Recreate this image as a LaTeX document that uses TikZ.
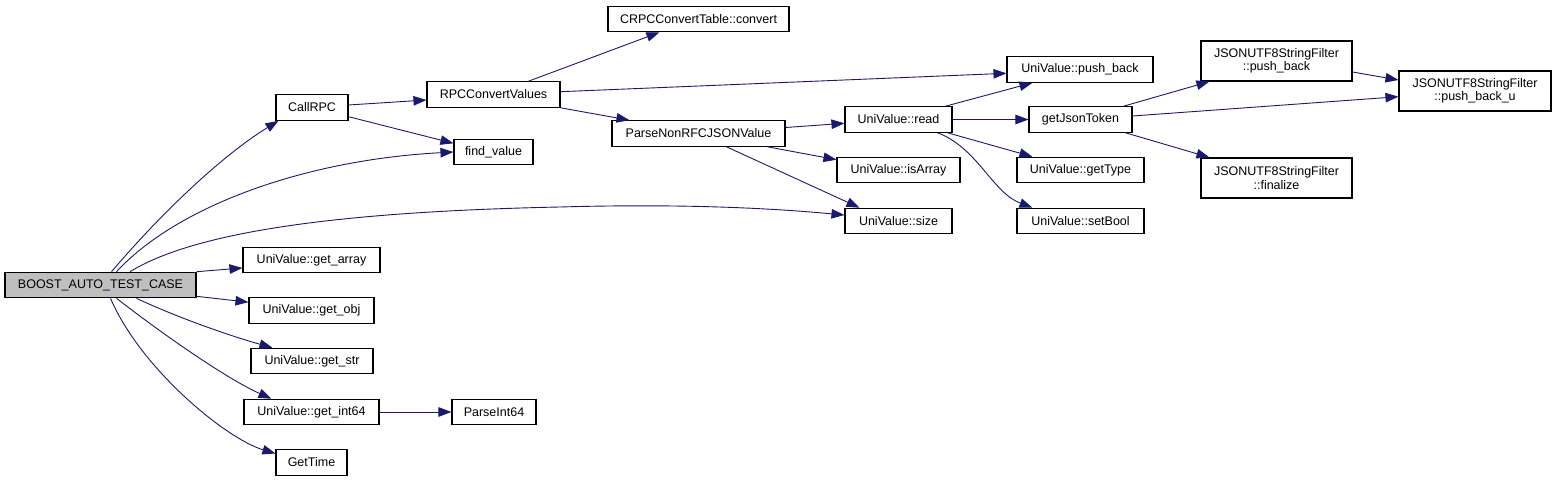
\documentclass[tikz,border=0pt]{standalone}
\usepackage{fontspec}
\setmainfont{Liberation Sans}
\usetikzlibrary{arrows.meta,calc}
\definecolor{edgecol}{HTML}{191970}
\definecolor{rootfill}{HTML}{BFBFBF}
\begin{document}
\begin{tikzpicture}[x=1pt,y=-1pt,
  box/.style={draw=black, line width=1.1pt, fill=white, inner sep=0pt,
    minimum height=25.5pt, font=\fontsize{12.5}{13.5}\selectfont, align=center},
  tallbox/.style={box, minimum height=40pt},
  rootbox/.style={box, fill=rootfill},
  edge/.style={draw=edgecol, line width=0.9pt, -{Triangle[length=13pt,width=9.5pt]}}]
\useasboundingbox (0,0) rectangle (1556,481);
\fill[white] (0,0) rectangle (1556,481);

% nodes
\node[rootbox, minimum width=191pt] (batc) at (100.5,285) {BOOST\_AUTO\_TEST\_CASE};
\node[box, minimum width=72pt]  (callrpc)  at (312,107.5) {CallRPC};
\node[box, minimum width=133pt] (rpccv)    at (493.5,94.5) {RPCConvertValues};
\node[box, minimum width=181pt] (crpc)     at (698.5,19) {CRPCConvertTable::convert};
\node[box, minimum width=173pt] (parse)    at (698.5,133.5) {ParseNonRFCJSONValue};
\node[box, minimum width=79pt]  (find)     at (493.5,152) {find\_value};
\node[box, minimum width=146pt] (uvpb)     at (1080,69.5) {UniValue::push\_back};
\node[box, minimum width=107pt] (read)     at (898.5,119.5) {UniValue::read};
\node[box, minimum width=103pt] (gjt)      at (1080.5,119.5) {getJsonToken};
\node[box, minimum width=123pt] (isarray)  at (898.5,170) {UniValue::isArray};
\node[box, minimum width=127pt] (gettype)  at (1080.5,170) {UniValue::getType};
\node[box, minimum width=107pt] (size)     at (898.5,221) {UniValue::size};
\node[box, minimum width=127pt] (setbool)  at (1080.5,221) {UniValue::setBool};
\node[tallbox, minimum width=151pt] (jsfpb) at (1276.5,61) {JSONUTF8StringFilter\\::push\_back};
\node[tallbox, minimum width=152pt] (pbu)   at (1475,91) {JSONUTF8StringFilter\\::push\_back\_u};
\node[tallbox, minimum width=151pt] (fin)   at (1276.5,178) {JSONUTF8StringFilter\\::finalize};
\node[box, minimum width=137pt] (getarray) at (311.5,260) {UniValue::get\_array};
\node[box, minimum width=125pt] (getobj)   at (311.5,310.5) {UniValue::get\_obj};
\node[box, minimum width=122pt] (getstr)   at (312,361) {UniValue::get\_str};
\node[box, minimum width=135pt] (getint)   at (311.5,412) {UniValue::get\_int64};
\node[box, minimum width=84pt]  (parseint) at (494,412) {ParseInt64};
\node[box, minimum width=71pt]  (gettime)  at (311.5,462.5) {GetTime};

% edges from BOOST_AUTO_TEST_CASE
\draw[edge] ($(batc.north)+(11,0)$) .. controls +(45,-53) and +(-60,37) .. ($(callrpc.south west)+(3,0)$);
\draw[edge] ($(batc.north)+(16,0)$) .. controls +(60,-65) and +(-150,8) .. (find.west);
\draw[edge] ($(batc.north)+(29.5,0)$) .. controls (190,235) and (320,212) .. (560,207)
            .. controls (700,203) and (790,210) .. ($(size.west)+(0,-6)$);
\draw[edge] (batc.north east) -- ($(getarray.west)+(0,8)$);
\draw[edge] ($(batc.south east)+(0,-2)$) -- ($(getobj.north west)+(0,5)$);
\draw[edge] ($(batc.south)+(36,0)$) .. controls +(40,19) and +(-40,-11) .. ($(getstr.north west)+(22,0)$);
\draw[edge] ($(batc.south)+(16,0)$) .. controls +(45,35) and +(-45,-20) .. ($(getint.north west)+(28,0)$);
\draw[edge] ($(batc.south)+(10,0)$) .. controls +(30,70) and +(-50,-15) .. ($(gettime.west)+(0,-9)$);

% other edges
\draw[edge] ($(callrpc.east)+(0,-2.5)$) -- ($(rpccv.west)+(0,5.5)$);
\draw[edge] ($(callrpc.east)+(0,9.2)$) -- ($(find.west)+(0,-8.7)$);
\draw[edge] ($(rpccv.north)+(35,0)$) -- ($(crpc.south west)+(52,0)$);
\draw[edge] ($(rpccv.east)+(0,-2.8)$) -- ($(uvpb.west)+(0,3.8)$);
\draw[edge] (rpccv.south east) -- ($(parse.north west)+(18,0)$);
\draw[edge] ($(parse.east)+(0,-6)$) -- ($(read.west)+(0,3.8)$);
\draw[edge] ($(parse.south east)+(-18,0)$) -- ($(isarray.north west)+(0,3)$);
\draw[edge] ($(parse.south)+(28,0)$) -- ($(size.north west)+(15,0)$);
\draw[edge] ($(read.north east)+(-7,0)$) -- ($(uvpb.south west)+(26,0)$);
\draw[edge] (read.east) -- (gjt.west);
\draw[edge] ($(read.south east)+(-5,0)$) -- ($(gettype.north west)+(16,0)$);
\draw[edge] ($(read.south east)+(-15,0)$) .. controls +(40,15) and +(-40,-15) .. ($(setbool.north west)+(16,0)$);
\draw[edge] ($(gjt.north east)+(-9,0)$) -- ($(jsfpb.south west)+(9,0)$);
\draw[edge] ($(gjt.east)+(0,-3.5)$) -- ($(pbu.west)+(0,5.7)$);
\draw[edge] ($(gjt.south east)+(-7,0)$) -- ($(fin.north west)+(9,0)$);
\draw[edge] ($(jsfpb.east)+(0,11)$) -- ($(pbu.west)+(0,-11)$);
\draw[edge] (getint.east) -- (parseint.west);
\end{tikzpicture}
\end{document}
